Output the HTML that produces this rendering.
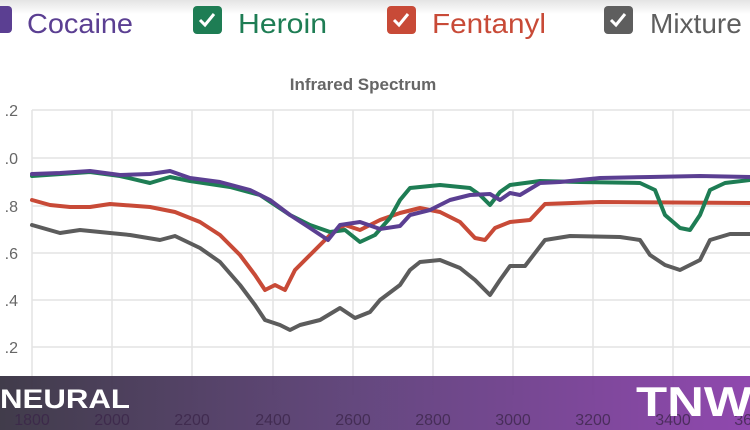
<!DOCTYPE html>
<html><head><meta charset="utf-8"><style>
html,body{margin:0;padding:0;width:750px;height:430px;overflow:hidden;background:#fff;font-family:"Liberation Sans",sans-serif}
</style></head><body>
<svg width="750" height="430" viewBox="0 0 750 430" xmlns="http://www.w3.org/2000/svg">
<defs>
<linearGradient id="top" x1="0" y1="0" x2="0" y2="1"><stop offset="0" stop-color="#e4e4e4"/><stop offset="1" stop-color="#fff"/></linearGradient>
<linearGradient id="ban" x1="0" y1="0" x2="1" y2="0"><stop offset="0" stop-color="#3b3645" stop-opacity="0.97"/><stop offset="0.5" stop-color="#5e3f7a" stop-opacity="0.95"/><stop offset="1" stop-color="#8a3eaa" stop-opacity="0.95"/></linearGradient>
</defs>
<rect x="0" y="0" width="750" height="14" fill="url(#top)"/>
<g font-size="28">
<rect x="-4" y="6" width="16" height="27" rx="4" fill="#5b3f92"/>
<text x="27" y="33" fill="#5b3f92" textLength="106" lengthAdjust="spacingAndGlyphs">Cocaine</text>
<rect x="193" y="6" width="29" height="28" rx="4" fill="#1e7d54"/>
<path d="M200 20 l5 5 l9 -11" stroke="#fff" stroke-width="3" fill="none"/>
<text x="238" y="33" fill="#1e7d54" textLength="89" lengthAdjust="spacingAndGlyphs">Heroin</text>
<rect x="387" y="6" width="29" height="28" rx="4" fill="#c84a37"/>
<path d="M394 20 l5 5 l9 -11" stroke="#fff" stroke-width="3" fill="none"/>
<text x="432" y="33" fill="#c84a37" textLength="114" lengthAdjust="spacingAndGlyphs">Fentanyl</text>
<rect x="604" y="6" width="29" height="28" rx="4" fill="#5e5e5e"/>
<path d="M611 20 l5 5 l9 -11" stroke="#fff" stroke-width="3" fill="none"/>
<text x="650" y="33" fill="#5e5e5e">Mixture</text>
</g>
<text x="363" y="90" font-size="17" font-weight="bold" fill="#666" text-anchor="middle">Infrared Spectrum</text>
<g stroke="#e3e3e3" stroke-width="1.5">
<line x1="32" y1="110" x2="750" y2="110"/><line x1="32" y1="158" x2="750" y2="158"/>
<line x1="32" y1="206" x2="750" y2="206"/><line x1="32" y1="253" x2="750" y2="253"/>
<line x1="32" y1="300" x2="750" y2="300"/><line x1="32" y1="347" x2="750" y2="347"/>
<line x1="32" y1="110" x2="32" y2="395"/><line x1="112" y1="110" x2="112" y2="395"/>
<line x1="192" y1="110" x2="192" y2="395"/><line x1="273" y1="110" x2="273" y2="395"/>
<line x1="353" y1="110" x2="353" y2="395"/><line x1="433" y1="110" x2="433" y2="395"/>
<line x1="513" y1="110" x2="513" y2="395"/><line x1="593" y1="110" x2="593" y2="395"/>
<line x1="673" y1="110" x2="673" y2="395"/>
</g>
<g font-size="16" fill="#666" text-anchor="end">
<text x="18" y="116">.2</text><text x="18" y="164">.0</text><text x="18" y="212">.8</text>
<text x="18" y="259">.6</text><text x="18" y="306">.4</text><text x="18" y="353">.2</text>
</g>
<g fill="none" stroke-width="4" stroke-linejoin="round" stroke-linecap="round">
<polyline stroke="#5c5c5c" points="32,225 60,233 80,230 110,233 130,235 160,240 175,236 200,248 220,262 240,285 255,305 265,320 280,325 290,330 300,325 320,320 340,308 355,318 370,312 380,300 400,285 410,270 420,262 440,260 460,268 475,280 490,295 500,280 510,266 525,266 545,240 570,236 620,237 640,240 650,255 665,265 680,270 700,260 710,240 730,234 750,234"/>
<polyline stroke="#c84a37" points="32,200 50,205 70,207 90,207 110,204 150,207 175,212 200,222 220,235 240,255 255,275 265,290 275,285 285,290 295,270 310,255 330,235 345,225 360,230 380,220 400,213 420,208 440,212 460,222 475,238 485,240 495,228 510,222 530,220 545,204 600,202 750,203"/>
<polyline stroke="#1e7d54" points="32,176 90,172 120,176 150,183 170,177 190,181 230,187 260,195 290,215 310,225 330,232 345,230 360,242 375,235 390,218 400,200 410,188 440,185 470,188 480,195 490,205 500,192 510,185 540,181 580,182 640,183 655,190 665,215 680,228 690,230 700,215 710,190 725,183 750,180"/>
<polyline stroke="#5b3f92" points="32,174 60,173 90,171 120,175 150,174 170,171 190,178 220,182 250,190 270,200 290,215 310,228 328,240 340,225 360,222 380,229 400,226 410,215 430,210 450,200 470,195 490,194 500,200 510,193 520,195 540,183 560,182 600,178 650,177 700,176 750,177"/>
</g>
<rect x="0" y="376" width="750" height="54" fill="url(#ban)"/>
<g font-size="16" fill="#3a2448" text-anchor="middle" opacity="0.75">
<text x="32" y="425">1800</text><text x="112" y="425">2000</text><text x="192" y="425">2200</text>
<text x="273" y="425">2400</text><text x="353" y="425">2600</text><text x="433" y="425">2800</text>
<text x="513" y="425">3000</text><text x="593" y="425">3200</text><text x="673" y="425">3400</text>
<text x="752" y="425">3600</text>
</g>
<text x="0" y="408" font-size="27" font-weight="bold" fill="#fff" textLength="130" lengthAdjust="spacingAndGlyphs">NEURAL</text>
<text x="636" y="416" font-size="42" font-weight="bold" fill="#fff" textLength="116" lengthAdjust="spacingAndGlyphs">TNW</text>
</svg>
</body></html>
